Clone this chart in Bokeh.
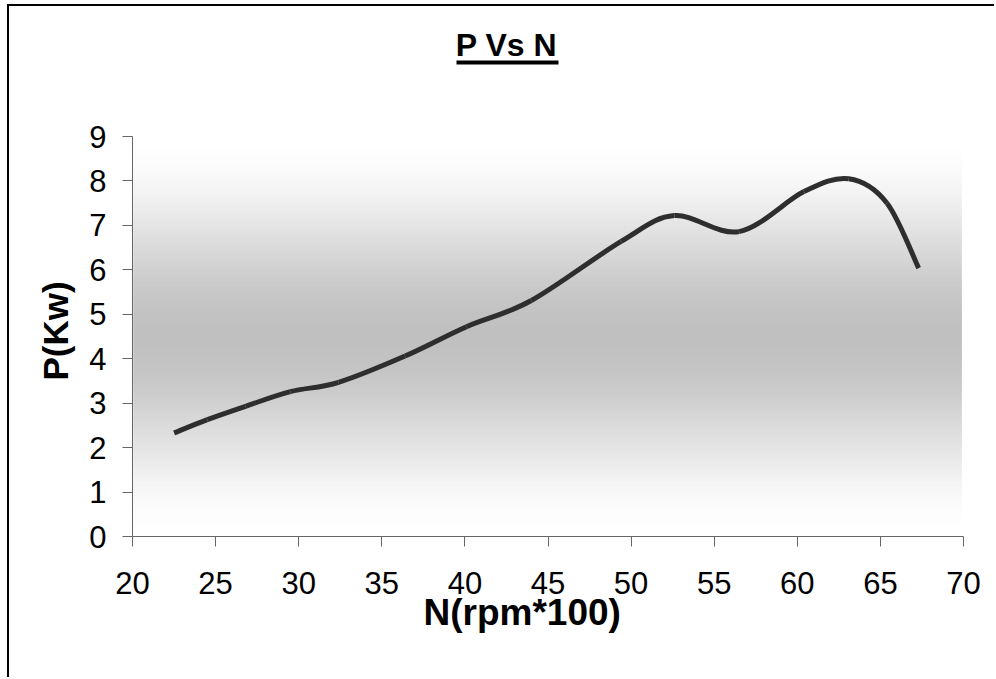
import numpy as np
from bokeh.plotting import figure
from bokeh.models import FixedTicker, Range1d, ColumnDataSource, Title
from bokeh.core.properties import value
from bokeh.embed import file_html
from bokeh.resources import INLINE

# ---- data ----
n_rpm = [22.5, 24.5, 26.8, 29.5, 32.4, 36.4, 40.1, 44.0, 49.4, 52.6, 56.5, 60.4, 63.1, 65.4, 67.3]
p_kw = [2.33, 2.63, 2.93, 3.26, 3.47, 4.06, 4.72, 5.31, 6.64, 7.22, 6.86, 7.76, 8.05, 7.50, 6.04]
x_ticks = [20, 25, 30, 35, 40, 45, 50, 55, 60, 65, 70]
y_ticks = [0, 1, 2, 3, 4, 5, 6, 7, 8, 9]
title_text = "P Vs N"
x_label = "N(rpm*100)"
y_label = "P(Kw)"

FONT = "Liberation Sans"

# ---- layout (pixels, relative to the canvas) ----
W, H = 987, 673
FL, FW = 123, 831          # frame left / width
AXIS_H = 400               # pixel height of the 0..9 axis
TOP_EXTRA = 130            # blank band above the axis, kept inside the frame for the title
x0, x1 = x_ticks[0], x_ticks[-1]
y0, y1 = y_ticks[0], y_ticks[-1]
ppy = AXIS_H / (y1 - y0)
ppx = FW / (x1 - x0)
y_top = y1 + TOP_EXTRA / ppy


def cx(px):   # canvas px -> data x
    return x0 + (px - FL) / ppx


def cy(py):   # canvas py -> data y
    return y0 + (TOP_EXTRA + AXIS_H - py) / ppy


p = figure(width=W, height=H, output_backend="svg", toolbar_location=None,
           x_range=Range1d(x0, x1), y_range=Range1d(y0, y_top),
           min_border_left=FL, min_border_right=W - FL - FW, min_border_top=0,
           min_border_bottom=H - TOP_EXTRA - AXIS_H,
           styles={"margin-left": "7px", "margin-top": "4px",
                   "border-left": "2px solid black", "border-top": "2px solid black"})
p.title = None
p.outline_line_color = None
p.xgrid.visible = False
p.ygrid.visible = False
p.background_fill_color = "white"
p.border_fill_color = "white"

# gradient background of the plot area (style only)
nb = 180
edges = np.linspace(y0, y1, nb + 1)
mid = (y0 + y1) / 2.0
half = (y1 - y0) / 2.0
cols = []
for i in range(nb):
    t = abs((edges[i] + edges[i + 1]) / 2 - mid) / half
    s = 3 * t * t - 2 * t ** 3
    g = int(round(192 + 63 * s))
    cols.append("#%02x%02x%02x" % (g, g, g))
p.quad(left=x0 + 0.05, right=x1 - 0.1, bottom=edges[:-1],
       top=np.minimum(edges[1:] + 0.02, y1), fill_color=cols, line_color=None)

# smoothed line (Catmull-Rom style bezier segments through the data points)
xs = np.array(n_rpm, dtype=float)
ys = np.array(p_kw, dtype=float)
xp = np.concatenate([[xs[0]], xs, [xs[-1]]])
yp = np.concatenate([[ys[0]], ys, [ys[-1]]])
k = len(xs) - 1
src = ColumnDataSource(dict(
    x0=xs[:-1], y0=ys[:-1], x1=xs[1:], y1=ys[1:],
    cx0=xs[:-1] + (xp[2:k + 2] - xp[0:k]) / 6.0,
    cy0=ys[:-1] + (yp[2:k + 2] - yp[0:k]) / 6.0,
    cx1=xs[1:] - (xp[3:k + 3] - xp[1:k + 1]) / 6.0,
    cy1=ys[1:] - (yp[3:k + 3] - yp[1:k + 1]) / 6.0,
))
p.bezier(x0="x0", y0="y0", x1="x1", y1="y1", cx0="cx0", cy0="cy0", cx1="cx1", cy1="cy1",
         source=src, line_color="#2e2e2e", line_width=5)

# chart title with underline
p.text(x=[cx(497)], y=[cy(38)], text=[title_text], text_font=value(FONT),
       text_font_size="32px", text_font_style="bold", text_color="black",
       text_align="center", text_baseline="alphabetic")
p.quad(left=[cx(447)], right=[cx(549)], top=[cy(54)], bottom=[cy(58)],
       fill_color="black", line_color=None)

p.xaxis.ticker = FixedTicker(ticks=x_ticks)
p.yaxis.ticker = FixedTicker(ticks=y_ticks)
p.yaxis.bounds = (y0, y1)
for ax in (p.xaxis[0], p.yaxis[0]):
    ax.axis_line_color = "#666666"
    ax.axis_line_width = 1
    ax.major_tick_line_color = "#666666"
    ax.major_tick_out = 10
    ax.major_tick_in = 0
    ax.minor_tick_line_color = None
    ax.major_label_text_font = FONT
    ax.major_label_text_font_size = "31px"
    ax.major_label_text_color = "black"
p.xaxis.major_label_standoff = 25
p.yaxis.major_label_standoff = 16

p.add_layout(Title(text=x_label, align="left", offset=291, standoff=-13,
                   text_font=FONT, text_font_size="37px", text_font_style="bold",
                   text_color="black"), "below")
p.add_layout(Title(text=y_label, align="left", offset=156, standoff=24,
                   text_font=FONT, text_font_size="35px", text_font_style="bold",
                   text_color="black"), "left")

open("out.html", "w").write(file_html(p, INLINE))
